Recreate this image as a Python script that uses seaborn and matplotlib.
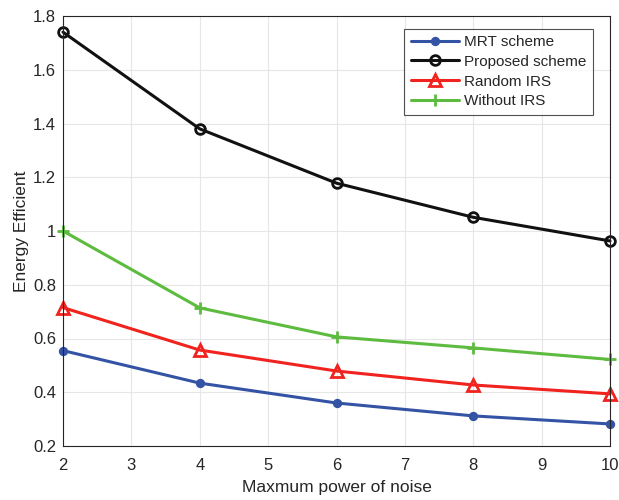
import matplotlib
matplotlib.use("Agg")
import matplotlib.pyplot as plt
import seaborn as sns
import pandas as pd

x_vals = [2, 4, 6, 8, 10]
mrt = [0.555, 0.434, 0.360, 0.312, 0.282]
proposed = [1.740, 1.380, 1.178, 1.051, 0.963]
random_irs = [0.715, 0.557, 0.479, 0.427, 0.394]
without_irs = [1.000, 0.714, 0.606, 0.565, 0.522]
series_names = ["MRT scheme", "Proposed scheme", "Random IRS", "Without IRS"]

sns.set_style("white")
plt.rcParams['font.family'] = ['Liberation Sans', 'DejaVu Sans']

rows = []
for name, vals in zip(series_names, [mrt, proposed, random_irs, without_irs]):
    for xv, yv in zip(x_vals, vals):
        rows.append({"x": xv, "y": yv, "s": name})
df = pd.DataFrame(rows)

colors = {"MRT scheme": "#3453A4", "Proposed scheme": "#111111",
          "Random IRS": "#F0231E", "Without IRS": "#5DBB3F"}
markers = {"MRT scheme": "o", "Proposed scheme": "o",
           "Random IRS": "^", "Without IRS": "+"}
mstyle = {
    "MRT scheme": dict(markersize=5.5, markerfacecolor="#3453A4", markeredgewidth=1.2),
    "Proposed scheme": dict(markersize=7, markerfacecolor="none", markeredgewidth=2),
    "Random IRS": dict(markersize=9, markerfacecolor="none", markeredgewidth=2),
    "Without IRS": dict(markersize=8, markeredgewidth=2),
}

fig = plt.figure(figsize=(6.19, 5.0), dpi=100)
ax = fig.add_axes([0.1018, 0.108, 0.8837, 0.860])

for name in series_names:
    sub = df[df["s"] == name]
    sns.lineplot(data=sub, x="x", y="y", ax=ax, color=colors[name],
                 marker=markers[name], linewidth=2.2, label=name,
                 markeredgecolor=colors[name], clip_on=False, **mstyle[name])

ax.set_xlim(2, 10)
ax.set_ylim(0.2, 1.8)
ax.set_xticks(range(2, 11))
ax.set_yticks([0.2, 0.4, 0.6, 0.8, 1.0, 1.2, 1.4, 1.6, 1.8])
ax.set_yticklabels(["0.2", "0.4", "0.6", "0.8", "1", "1.2", "1.4", "1.6", "1.8"])
ax.grid(True, color="#E6E6E6", linewidth=0.8)
ax.tick_params(direction="in", length=4, labelsize=12, colors="#262626", width=0.6)
ax.tick_params(axis="y", pad=5)
ax.tick_params(axis="x", pad=9)
for sp in ax.spines.values():
    sp.set_color("#262626")
    sp.set_linewidth(0.8)
ax.set_xlabel("Maxmum power of noise", fontsize=12.5, color="#262626", labelpad=5)
ax.set_ylabel("Energy Efficient", fontsize=12.5, color="#262626", labelpad=3)

leg = ax.legend(loc="upper right", bbox_to_anchor=(0.968, 0.97), fontsize=11,
                frameon=True, fancybox=False, edgecolor="#262626",
                handlelength=3.2, borderpad=0.4, labelspacing=0.38,
                handletextpad=0.3, borderaxespad=0.0)
leg.get_frame().set_linewidth(0.8)

fig.savefig("out.png", dpi=100)
